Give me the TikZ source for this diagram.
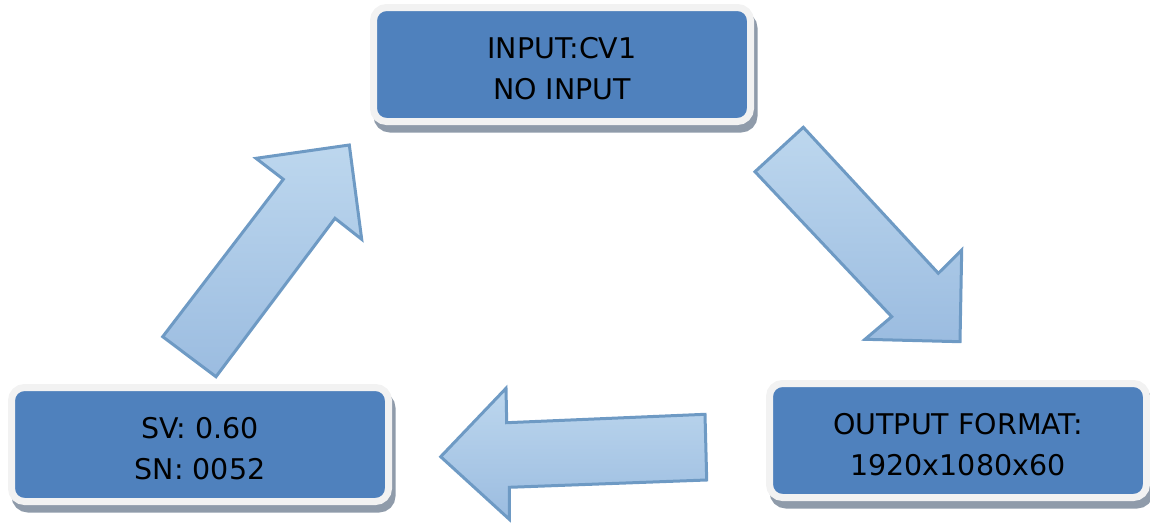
\documentclass[tikz,border=0pt]{standalone}
\usepackage{fontspec}
\setmainfont{DejaVu Sans}
\definecolor{boxblue}{HTML}{4F81BD}
\definecolor{boxrim}{HTML}{F2F2F2}
\definecolor{boxshadow}{HTML}{8F9BAA}
\definecolor{arrtop}{HTML}{BDD7EE}
\definecolor{arrbot}{HTML}{9BBCE0}
\definecolor{arrline}{HTML}{6E9AC4}
\tikzset{
  screenbox/.style={rectangle, rounded corners=13pt, minimum width=377pt, minimum height=114pt,
    fill=boxblue, draw=boxrim, line width=7pt, inner sep=0pt,
    preaction={draw=boxshadow, fill=boxshadow, line width=7pt,
      transform canvas={shift={(3.5pt,-7.5pt)}}}},
  screentext/.style={align=center, font=\fontsize{28.5pt}{41pt}\selectfont, text=black, inner sep=0pt},
  blockarrow/.style={draw=arrline, line width=3pt, line join=miter, top color=arrtop, bottom color=arrbot}
}
\begin{document}
\begin{tikzpicture}[x=1pt,y=-1pt]
\useasboundingbox (0,0) rectangle (1150,522);
% block arrows
\draw[blockarrow] (162.7,336.7) -- (216,376.7) -- (335,218.3) -- (361.7,239.3) -- (349.3,145)
  -- (256,158.3) -- (283.3,179.3) -- cycle;
\draw[blockarrow] (755,171.7) -- (803.3,127.3) -- (938.3,273.3) -- (961.7,250) -- (960,341.7)
  -- (865,339.3) -- (891.7,316.7) -- cycle;
\draw[blockarrow] (705,414.3) -- (706.7,480) -- (509.3,487.3) -- (509.3,519.3) -- (440.7,456.7)
  -- (506,388.3) -- (506.7,422.7) -- cycle;
% boxes
\node[screenbox] (top) at (562,64.5) {};
\node[screenbox] (left) at (200,444.5) {};
\node[screenbox] (right) at (958,440.5) {};
\node[screentext] (toptext) at ([yshift=-4.5pt]top.center) {INPUT:CV1\\NO INPUT};
\node[screentext] (lefttext) at ([yshift=-4.5pt]left.center) {SV: 0.60\\SN: 0052};
\node[screentext] (righttext) at ([yshift=-4.5pt]right.center) {OUTPUT FORMAT:\\1920x1080x60};
\end{tikzpicture}
\end{document}
